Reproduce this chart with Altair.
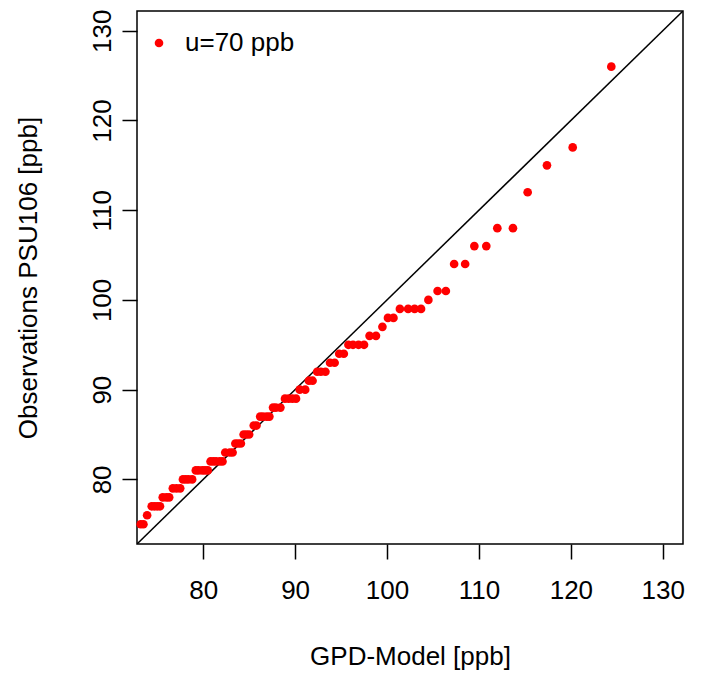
import altair as alt
import pandas as pd

# Observed sorted exceedances (ppb) and matching GPD model quantiles (ppb)
obs_levels = [75, 76, 77, 78, 79, 80, 81, 82, 83, 84, 85, 86, 87, 88, 89, 90, 91, 92,
              93, 94, 95, 96, 97, 98, 99, 100, 101, 104, 106, 108, 112, 115, 117, 126]
model_by_level = [
    [73.2, 73.5],
    [73.9],
    [74.4, 74.7, 75.0, 75.3],
    [75.6, 76.0, 76.3],
    [76.7, 77.1, 77.5],
    [77.8, 78.1, 78.4, 78.8],
    [79.2, 79.5, 79.9, 80.2, 80.5],
    [80.8, 81.1, 81.4, 81.8, 82.1],
    [82.4, 82.9, 83.2],
    [83.5, 83.8, 84.1],
    [84.4, 84.7, 85.0],
    [85.5, 85.8],
    [86.2, 86.5, 86.9, 87.2],
    [87.6, 87.9, 88.4],
    [88.9, 89.3, 89.7, 90.1],
    [90.5, 91.1],
    [91.5, 91.9],
    [92.4, 92.8, 93.3],
    [93.8, 94.3],
    [94.8, 95.3],
    [95.8, 96.3, 96.9, 97.5],
    [98.1, 98.8],
    [99.5],
    [100.1, 100.7],
    [101.4, 102.3, 103.0, 103.7],
    [104.5],
    [105.5, 106.4],
    [107.3, 108.5],
    [109.5, 110.8],
    [112.0, 113.7],
    [115.3],
    [117.4],
    [120.2],
    [124.4],
]

tick_values = [80, 90, 100, 110, 120, 130]
axis_domain = [72.8, 132.2]
identity_line = [60, 140]
series_label = "u=70 ppb"

rows = []
for lvl, xs in zip(obs_levels, model_by_level):
    for xv in xs:
        rows.append({"model": xv, "obs": lvl, "series": series_label})
df = pd.DataFrame(rows)
line_df = pd.DataFrame({"model": identity_line, "obs": identity_line})

FONT = "Liberation Sans"
FS = 26
DOT = 75

xscale = alt.Scale(domain=axis_domain, nice=False, zero=False)
yscale = alt.Scale(domain=axis_domain, nice=False, zero=False)

x_axis = alt.Axis(values=tick_values, title="GPD-Model [ppb]", grid=False, domain=False,
                  tickSize=15, tickWidth=1.5, tickColor="black",
                  labelFontSize=FS, labelColor="black", labelPadding=18, labelFont=FONT,
                  titleFontSize=FS, titleFont=FONT, titleFontWeight="normal", titleColor="black",
                  titleY=112, titleBaseline="middle")
y_axis = alt.Axis(values=tick_values, title="Observations PSU106 [ppb]", grid=False, domain=False,
                  tickSize=15, tickWidth=1.5, tickColor="black",
                  labelFontSize=FS, labelColor="black", labelPadding=12, labelFont=FONT,
                  labelAngle=270, labelAlign="center", labelBaseline="alphabetic",
                  titleFontSize=FS, titleFont=FONT, titleFontWeight="normal", titleColor="black",
                  titleX=-109, titleBaseline="middle", titleAngle=270)

line = alt.Chart(line_df).mark_line(color="black", strokeWidth=1.5, clip=True).encode(
    x=alt.X("model:Q", scale=xscale, axis=x_axis),
    y=alt.Y("obs:Q", scale=yscale, axis=y_axis),
)

points = alt.Chart(df).mark_circle(size=DOT, opacity=1).encode(
    x=alt.X("model:Q", scale=xscale),
    y=alt.Y("obs:Q", scale=yscale),
    color=alt.Color("series:N", scale=alt.Scale(range=["#FF0000"]),
                    legend=alt.Legend(orient="none", legendX=9, legendY=19, title=None,
                                      labelFontSize=FS, labelFont=FONT, labelColor="black",
                                      symbolSize=DOT, symbolType="circle", labelOffset=13,
                                      padding=0, symbolStrokeWidth=0)),
)

chart = (line + points).properties(
    width=546, height=533,
    autosize=alt.AutoSizeParams(type="none"),
    padding={"left": 129, "top": 3, "right": 17, "bottom": 131},
).configure(
    font=FONT,
    view=alt.ViewConfig(stroke="black", strokeWidth=1.5),
)

chart.save("out.html", embed_options={"renderer": "svg", "actions": False})
